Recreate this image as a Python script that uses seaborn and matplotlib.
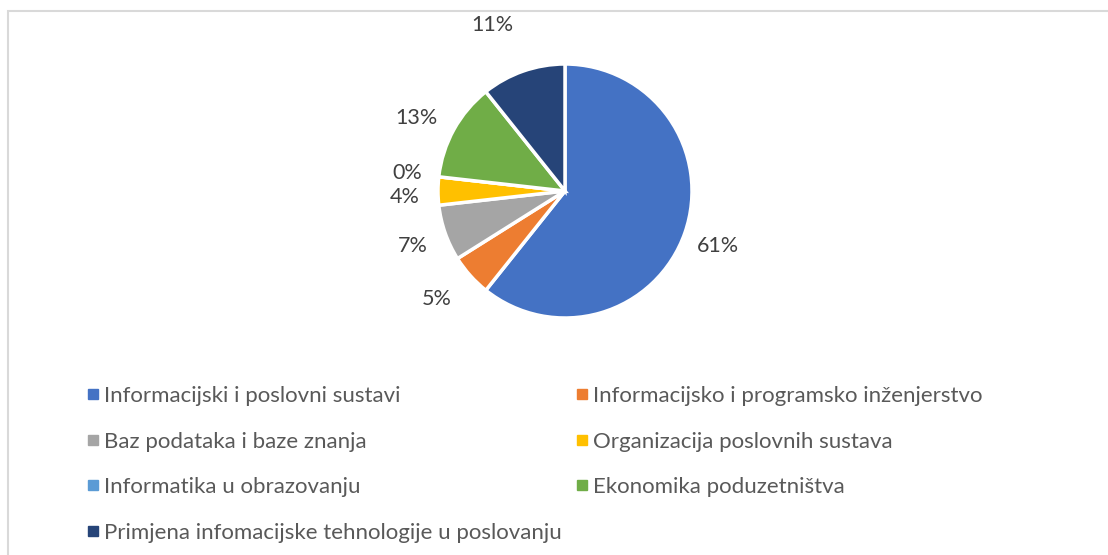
import matplotlib
matplotlib.use("Agg")
import matplotlib.pyplot as plt
import seaborn as sns
from matplotlib.lines import Line2D
from matplotlib.patches import Rectangle
import numpy as np

categories = [
    "Informacijski i poslovni sustavi",
    "Informacijsko i programsko inženjerstvo",
    "Baz podataka i baze znanja",
    "Organizacija poslovnih sustava",
    "Informatika u obrazovanju",
    "Ekonomika poduzetništva",
    "Primjena infomacijske tehnologije u poslovanju",
]
counts = [34, 3, 4, 2, 0, 7, 6]
colors = ["#4472C4", "#ED7D31", "#A5A5A5", "#FFC000", "#5B9BD5", "#70AD47", "#264478"]
label_dist = [1.275, 1.31, 1.27, 1.26, 1.25, 1.31, 1.44]
label_shift = [0, -2.3, 0, 1.5, -0.6, 2.3, 4.0]   # degrees

sns.set_theme(style="white")
plt.rcParams["font.family"] = ["Lato", "DejaVu Sans"]
palette = sns.color_palette(colors)

W, H = 1108, 555
fig = plt.figure(figsize=(W / 100, H / 100), dpi=100)

# chart frame
fig.add_artist(Rectangle((8 / W, -0.2), 1.2, 1.2 - 11 / H, transform=fig.transFigure,
                         fill=False, edgecolor="#D9D9D9", linewidth=1.5))

cx, cy, R = 565, 555 - 191, 127
L = 1.5
ax = fig.add_axes([(cx - R * L) / W, (cy - R * L) / H, 2 * R * L / W, 2 * R * L / H])

wedges, _ = ax.pie(counts, colors=palette, startangle=90, counterclock=False,
                   radius=1.0, wedgeprops=dict(edgecolor="white", linewidth=2.5))
ax.set_xlim(-L, L)
ax.set_ylim(-L, L)
ax.set_aspect("equal")
ax.axis("off")

total = sum(counts)
for w, c, d, s in zip(wedges, counts, label_dist, label_shift):
    mid = np.deg2rad((w.theta1 + w.theta2) / 2 + s)
    pct = int(100 * c / total + 0.5)
    ax.text(d * np.cos(mid), d * np.sin(mid) - 0.015, f"{pct}%", ha="center", va="center",
            fontsize=15.5, color="#404040")

handles = [Line2D([], [], marker="s", linestyle="none", markersize=6.5,
                  markerfacecolor=col, markeredgecolor=col) for col in palette]
order = [0, 2, 4, 6, 1, 3, 5]
fig.legend([handles[i] for i in order], [categories[i] for i in order], ncol=2,
           loc="upper left", bbox_to_anchor=(86 / W, 1 - 386 / H), frameon=False,
           fontsize=16, labelcolor="#595959", handlelength=0.6, handletextpad=0.2,
           labelspacing=1.15, columnspacing=0.6, borderaxespad=0, borderpad=0)

fig.savefig("out.png", dpi=100)
